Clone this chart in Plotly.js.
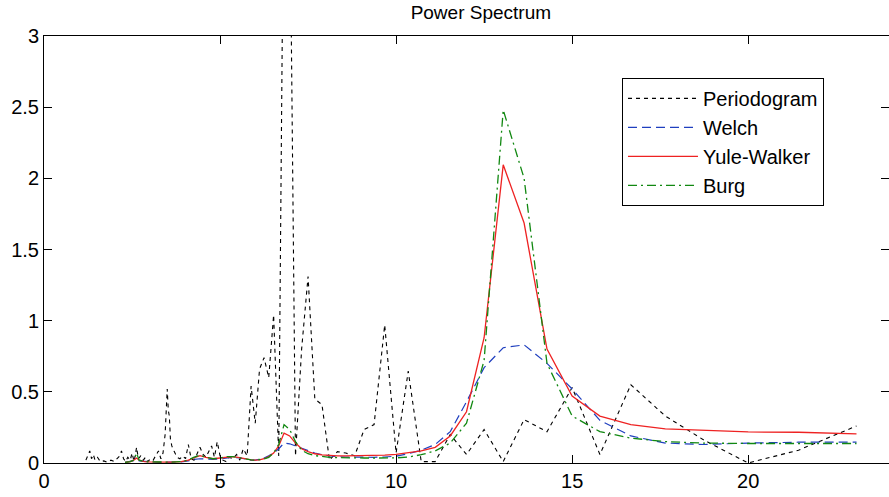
<!DOCTYPE html>
<html>
<head>
<meta charset="utf-8">
<script src="https://cdn.plot.ly/plotly-3.0.1.min.js"></script>
<style>html,body{margin:0;padding:0;background:#fff;}#chart{width:889px;height:497px;}</style>
</head>
<body>
<div id="chart"></div>
<script>
// Periodogram samples (period axis)
const periodogramX = [1.19,1.25,1.30,1.35,1.40,1.45,1.52,1.60,1.70,1.80,1.90,2.00,2.08,2.15,2.20,2.26,2.32,2.38,2.45,2.50,2.56,2.63,2.68,2.75,2.82,2.88,2.95,3.02,3.10,3.18,3.25,3.32,3.38,3.44,3.50,3.53,3.56,3.59,3.63,3.70,3.78,3.86,3.94,4.02,4.10,4.18,4.26,4.34,4.43,4.52,4.60,4.68,4.76,4.84,4.92,5.00,5.08,5.17,5.26,5.36,5.47,5.56,5.66,5.77,
  5.882,6.0,6.122,6.25,6.383,6.522,6.667,6.818,6.977,7.143,7.317,7.5,7.692,7.895,8.108,8.333,8.571,8.824,9.091,9.375,9.677,10.0,10.345,10.714,11.111,11.538,12.0,12.5,13.043,13.636,14.286,15.0,15.789,16.667,17.647,18.75,20.0,21.429,23.077];
const periodogramY = [0.02,0.05,0.085,0.03,0.06,0.02,0.04,0.01,0.015,0.005,0.02,0.01,0.03,0.05,0.085,0.03,0.01,0.04,0.02,0.07,0.01,0.11,0.03,0.05,0.02,0.04,0.01,0.03,0.02,0.05,0.085,0.03,0.07,0.2,0.52,0.37,0.33,0.17,0.12,0.08,0.04,0.03,0.05,0.03,0.13,0.03,0.02,0.06,0.11,0.06,0.04,0.08,0.12,0.04,0.15,0.05,0.02,0.01,0.04,0.03,0.06,0.02,0.10,0.05,
  0.54,0.28,0.66,0.74,0.6,1.04,0.05,4.5,4.2,0.05,0.8,1.31,0.45,0.41,0.02,0.08,0.07,0.05,0.235,0.27,0.97,0.07,0.645,0.01,0.01,0.2,0.06,0.235,0.01,0.305,0.22,0.53,0.06,0.55,0.33,0.16,0.0,0.09,0.26];

// Model-based estimates share one period grid
const modelX = [2.3,2.45,2.55,2.63,2.7,2.85,3.0,3.3,3.6,3.9,4.1,4.25,4.43,4.6,4.8,5.0,5.17,5.36,5.56,5.77,5.882,6.0,6.122,6.25,6.383,6.522,6.667,6.818,6.977,7.143,7.317,7.5,7.692,7.895,8.108,8.333,8.571,8.824,9.091,9.375,9.677,10.0,10.345,10.714,11.111,11.538,12.0,12.5,13.043,13.636,14.286,15.0,15.789,16.667,17.647,18.75,20.0,21.429,23.077];
const welch = [0.005,0.01,0.015,0.02,0.015,0.01,0.008,0.005,0.005,0.008,0.015,0.025,0.03,0.028,0.025,0.028,0.035,0.04,0.035,0.025,0.02,0.02,0.025,0.035,0.05,0.07,0.1,0.14,0.135,0.12,0.1,0.085,0.07,0.058,0.05,0.045,0.042,0.04,0.04,0.04,0.042,0.048,0.065,0.09,0.13,0.22,0.43,0.67,0.81,0.83,0.70,0.52,0.30,0.19,0.14,0.13,0.14,0.146,0.146];
const yuleWalker = [0.005,0.01,0.02,0.035,0.02,0.01,0.008,0.006,0.006,0.01,0.02,0.035,0.052,0.04,0.03,0.035,0.042,0.045,0.038,0.025,0.022,0.02,0.022,0.03,0.045,0.07,0.12,0.21,0.19,0.14,0.10,0.08,0.065,0.057,0.052,0.05,0.05,0.05,0.05,0.052,0.055,0.06,0.07,0.085,0.11,0.19,0.36,0.88,2.095,1.686,0.80,0.47,0.33,0.27,0.24,0.228,0.218,0.216,0.205];
const burg = [0.005,0.01,0.02,0.07,0.02,0.01,0.008,0.006,0.006,0.01,0.02,0.04,0.055,0.04,0.03,0.035,0.045,0.045,0.035,0.025,0.022,0.02,0.022,0.028,0.04,0.07,0.13,0.27,0.235,0.15,0.09,0.065,0.052,0.045,0.04,0.038,0.036,0.035,0.035,0.035,0.035,0.036,0.042,0.058,0.085,0.14,0.28,0.72,2.48,2.00,0.70,0.33,0.22,0.175,0.15,0.14,0.137,0.137,0.137];

const seriesNames = ['Periodogram','Welch','Yule-Walker','Burg'];
const xTicks = [0,5,10,15,20];
const yTicks = [0,0.5,1,1.5,2,2.5,3];
const yTickText = ['0','0.5','1','1.5','2','2.5','3'];

const FONT = 'Liberation Sans, Arial, Helvetica, sans-serif';

const traces = [
  {x: periodogramX, y: periodogramY, name: seriesNames[0], mode:'lines', legendgroup:'a',
   line:{color:'#000000', width:1.1, dash:'4px,4px'}},
  {x: modelX, y: welch, name: seriesNames[1], mode:'lines', legendgroup:'b',
   line:{color:'#1f3fbf', width:1.2, dash:'9px,5px'}},
  {x: modelX, y: yuleWalker, name: seriesNames[2], mode:'lines', legendgroup:'c',
   line:{color:'#ee2222', width:1.3}},
  {x: modelX, y: burg, name: seriesNames[3], mode:'lines', legendgroup:'d',
   line:{color:'#118811', width:1.3, dash:'9px,4px,2px,4px'}}
];

const layout = {
  width: 889, height: 497,
  margin: {l:44, r:0, t:36, b:34, pad:0},
  paper_bgcolor:'#ffffff', plot_bgcolor:'#ffffff',
  font: {family: FONT, size: 20, color:'#000'},
  title: {text:'Power Spectrum', font:{family: FONT, size:19, color:'#000'},
          x: 0.517, xref:'paper', xanchor:'center', y: 0.975, yref:'container', yanchor:'middle'},
  showlegend: true,
  legend: {x: 0.684, y: 0.902, xanchor:'left', yanchor:'top', xref:'paper', yref:'paper',
           bgcolor:'#ffffff', bordercolor:'#000000', borderwidth:1,
           font:{family: FONT, size:20, color:'#000'}, itemwidth: 70,
           tracegroupgap: 1, traceorder:'normal'},
  xaxis: {range:[0,24], tickvals:xTicks, ticktext:xTicks.map(String), ticks:'inside', ticklen:8,
          tickcolor:'#000', showline:true, linecolor:'#000', linewidth:1, mirror:'ticks',
          showgrid:false, zeroline:false, tickfont:{family:FONT, size:20, color:'#000'}},
  yaxis: {range:[0,3], tickvals:yTicks, ticktext:yTickText, ticks:'inside', ticklen:8,
          tickcolor:'#000', showline:true, linecolor:'#000', linewidth:1, mirror:'ticks',
          showgrid:false, zeroline:false, tickfont:{family:FONT, size:20, color:'#000'}}
};

Plotly.newPlot('chart', traces, layout, {displayModeBar:false, staticPlot:true});
</script>
</body>
</html>
